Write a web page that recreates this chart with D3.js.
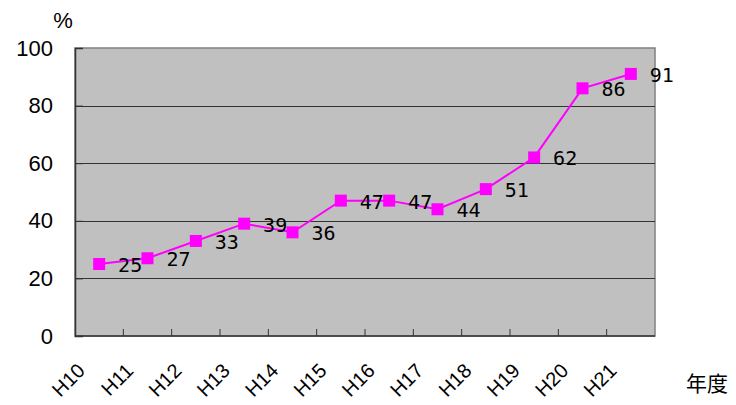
<!DOCTYPE html>
<html>
<head>
<meta charset="utf-8">
<script src="https://cdn.jsdelivr.net/npm/d3@7"></script>
<style>
  html, body { margin: 0; padding: 0; background: #fff; }
  svg { display: block; }
</style>
</head>
<body>
<svg id="chart" width="736" height="405"></svg>
<script>
// Yearly share (%) by fiscal year
const years = ["H10", "H11", "H12", "H13", "H14", "H15", "H16", "H17", "H18", "H19", "H20", "H21"];
const rates = [25, 27, 33, 39, 36, 47, 47, 44, 51, 62, 86, 91];
const yTicks = [0, 20, 40, 60, 80, 100];

const svg = d3.select("#chart");
const plot = { left: 75, right: 655, top: 48, bottom: 336 };
const sans = "Liberation Sans, Arial, sans-serif";

const x = d3.scaleBand().domain(years).range([plot.left, plot.right]);
const y = d3.scaleLinear().domain([0, 100]).range([plot.bottom, plot.top]);

// plot background
svg.append("rect")
  .attr("x", plot.left).attr("y", plot.top)
  .attr("width", plot.right - plot.left).attr("height", plot.bottom - plot.top)
  .attr("fill", "#c0c0c0")
  .attr("stroke", "#808080").attr("stroke-width", 1.5);

// horizontal gridlines
svg.append("g").selectAll("line")
  .data(yTicks.filter(d => d > 0 && d < 100))
  .join("line")
  .attr("x1", plot.left).attr("x2", plot.right)
  .attr("y1", d => Math.round(y(d)) + 0.5).attr("y2", d => Math.round(y(d)) + 0.5)
  .attr("stroke", "#333").attr("stroke-width", 1);

// y axis (ticks pointing into the plot)
const yAxis = svg.append("g")
  .attr("transform", `translate(${plot.left},0)`)
  .call(d3.axisLeft(y).tickValues(yTicks).tickSize(-8).tickPadding(22));
yAxis.select(".domain").attr("stroke", "#333").attr("stroke-width", 1.5);
yAxis.selectAll(".tick line").attr("stroke", "#333");
yAxis.selectAll("text")
  .attr("font-family", sans)
  .attr("font-size", 22).attr("fill", "#000");

// x axis with tick marks at category boundaries
const xAxisG = svg.append("g")
  .attr("transform", `translate(0,${plot.bottom})`);
xAxisG.append("line")
  .attr("x1", plot.left).attr("x2", plot.right)
  .attr("y1", 0).attr("y2", 0)
  .attr("stroke", "#333").attr("stroke-width", 1.5);
xAxisG.selectAll(".xtick")
  .data(years.slice(1))
  .join("line")
  .attr("class", "xtick")
  .attr("x1", d => x(d)).attr("x2", d => x(d))
  .attr("y1", 0).attr("y2", -7)
  .attr("stroke", "#333");
xAxisG.selectAll(".xlabel")
  .data(years)
  .join("text")
  .attr("class", "xlabel")
  .attr("transform", d => `translate(${x(d) + x.bandwidth() / 2 - 13},${36}) rotate(-45)`)
  .attr("text-anchor", "end")
  .attr("font-family", sans)
  .attr("font-size", 20)
  .text(d => d);

// axis titles
svg.append("text")
  .attr("x", 63).attr("y", 28)
  .attr("text-anchor", "middle")
  .attr("font-family", sans)
  .attr("font-size", 22)
  .text("%");
svg.append("text")
  .attr("x", 707).attr("y", 391)
  .attr("text-anchor", "middle")
  .attr("font-family", "Noto Sans CJK JP, sans-serif")
  .attr("font-size", 21)
  .text("年度");

// series line
const cx = d => x(d) + x.bandwidth() / 2;
const line = d3.line()
  .x((d, i) => cx(years[i]))
  .y(d => y(d));
svg.append("path")
  .datum(rates)
  .attr("d", line)
  .attr("fill", "none")
  .attr("stroke", "#ff00ff")
  .attr("stroke-width", 2);

// square markers
const ms = 12;
svg.append("g").selectAll("rect")
  .data(rates)
  .join("rect")
  .attr("x", (d, i) => cx(years[i]) - ms / 2)
  .attr("y", d => y(d) - ms / 2)
  .attr("width", ms).attr("height", ms)
  .attr("fill", "#ff00ff");

// value labels
svg.append("g").selectAll("text")
  .data(rates)
  .join("text")
  .attr("x", (d, i) => cx(years[i]) + 31)
  .attr("y", d => y(d) + 8)
  .attr("text-anchor", "middle")
  .attr("font-family", "DejaVu Sans Mono, monospace")
  .attr("font-size", 20)
  .attr("fill", "#000")
  .text(d => d);
</script>
</body>
</html>
